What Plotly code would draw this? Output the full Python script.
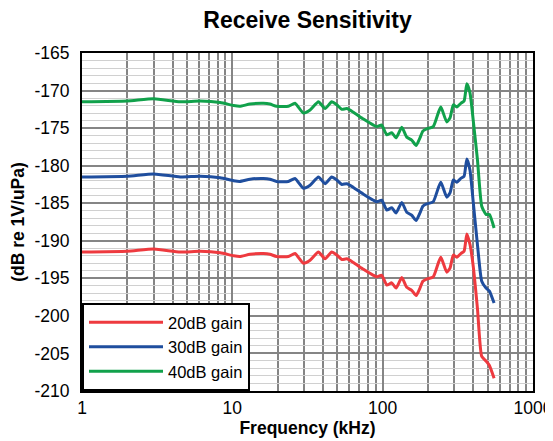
import plotly.graph_objects as go

freq_khz = [1, 2, 3, 4.5, 6.1, 8.3, 10.2, 11.2, 13.1, 16.1, 17.8, 19.7, 23.6, 26.1, 29.7, 32.9,
            37.4, 41.4, 45.8, 49.5, 53.5, 57.7, 63.9, 74.5, 86.8, 91.4, 98.6, 106.5, 115, 122.8,
            134, 144.6, 156, 167, 177, 185, 196, 217, 235, 244, 267, 281, 295, 311, 331, 348,
            363, 381, 401, 427, 456, 487, 513, 551]

gain_40db = [-171.5, -171.4, -171.1, -171.5, -171.4, -171.6, -172.0, -172.1, -171.8, -171.7,
             -171.8, -172.1, -172.1, -171.7, -173.0, -172.6, -171.5, -172.4, -171.5, -171.9,
             -172.5, -172.4, -172.9, -173.8, -174.6, -174.8, -174.6, -175.9, -175.6, -176.3,
             -174.9, -176.2, -176.6, -177.3, -176.3, -175.4, -175.1, -174.8, -172.9, -172.2,
             -174.2, -173.6, -171.9, -172.2, -171.7, -171.4, -169.1, -170.3, -174.1, -179.2,
             -185.4, -186.5, -186.5, -188.3]

gain_30db = [-181.5, -181.4, -181.1, -181.5, -181.4, -181.6, -182.0, -182.1, -181.8, -181.7,
             -181.8, -182.1, -182.1, -181.7, -183.0, -182.6, -181.5, -182.4, -181.5, -181.9,
             -182.5, -182.4, -182.9, -183.8, -184.6, -184.8, -184.6, -185.9, -185.6, -186.3,
             -184.9, -186.2, -186.6, -187.3, -186.3, -185.4, -185.1, -184.8, -182.9, -182.2,
             -184.2, -183.6, -181.9, -182.2, -181.7, -181.4, -179.1, -180.6, -185.0, -190.5,
             -195.4, -196.3, -196.7, -198.3]

gain_20db = [-191.5, -191.4, -191.1, -191.5, -191.4, -191.6, -192.0, -192.1, -191.8, -191.7,
             -191.8, -192.1, -192.1, -191.7, -193.0, -192.6, -191.5, -192.4, -191.5, -191.9,
             -192.5, -192.4, -192.9, -193.8, -194.6, -194.8, -194.6, -195.9, -195.6, -196.3,
             -194.9, -196.2, -196.6, -197.3, -196.3, -195.4, -195.1, -194.8, -192.9, -192.2,
             -194.2, -193.6, -191.9, -192.2, -191.7, -191.4, -189.1, -190.5, -193.5, -199.0,
             -205.4, -206.0, -206.6, -208.3]

series_names = ["20dB gain", "30dB gain", "40dB gain"]
series_values = [gain_20db, gain_30db, gain_40db]
series_colors = ["#EE3A3F", "#1F4E9E", "#11A14B"]

x_tick_vals = [1, 10, 100, 1000]
x_tick_text = ["1", "10", "100", "1000"]
x_minor_vals = [m * d for d in (1, 10, 100) for m in range(2, 10)]

y_tick_vals = [-210, -205, -200, -195, -190, -185, -180, -175, -170, -165]
y_tick_text = ["-210", "-205", "-200", "-195", "-190", "-185", "-180", "-175", "-170", "-165"]

fig = go.Figure()
for name, vals, col in zip(series_names, series_values, series_colors):
    fig.add_trace(go.Scatter(x=freq_khz, y=vals, mode="lines", name=name,
                             line=dict(color=col, width=3, shape="spline", smoothing=0.5)))

# the page body adds an 8 px offset, so the figure is 8 px smaller than the window
W, H = 545, 433
font_family = "Liberation Sans, Arial, sans-serif"
fig.update_layout(
    width=W, height=H,
    margin=dict(l=74, r=20, t=45, b=50),
    paper_bgcolor="white", plot_bgcolor="white",
    font=dict(family=font_family, size=17.5, color="black"),
    title=dict(text="<b>Receive Sensitivity</b>", x=0.5, xref="paper", xanchor="center",
               y=1 - 11.5 / H, yanchor="middle", yref="container",
               font=dict(size=23, family=font_family)),
    xaxis=dict(type="log", range=[0, 3], tickmode="array", tickvals=x_tick_vals,
               ticktext=x_tick_text, showgrid=True, gridcolor="#858585", gridwidth=1.6,
               minor=dict(tickmode="array", tickvals=x_minor_vals, showgrid=True,
                          gridcolor="#858585", gridwidth=1.6, ticks=""),
               showline=True, mirror=True, linecolor="black", linewidth=2,
               ticks="", zeroline=False, automargin=False,
               title=dict(text="<b>Frequency (kHz)</b>", standoff=4,
                          font=dict(size=17.5))),
    yaxis=dict(range=[-210, -165], tickmode="array", tickvals=y_tick_vals,
               ticktext=y_tick_text, showgrid=True,
               gridcolor="#858585", gridwidth=1.6,
               minor=dict(dtick=1, tick0=-210, showgrid=True, gridcolor="#d0d0d0",
                          gridwidth=1, ticks=""),
               showline=True, mirror=True, linecolor="black", linewidth=2,
               ticks="", zeroline=False, automargin=False, ticklabelstandoff=7,
               title=dict(text="<b>(dB re 1V/uPa)</b>", standoff=13,
                          font=dict(size=17.5))),
    legend=dict(x=0, y=0, xanchor="left", yanchor="bottom", bgcolor="white",
                bordercolor="black", borderwidth=2, itemwidth=74,
                font=dict(size=16.5), tracegroupgap=0),
    showlegend=True,
)

fig.write_html("out.html")
